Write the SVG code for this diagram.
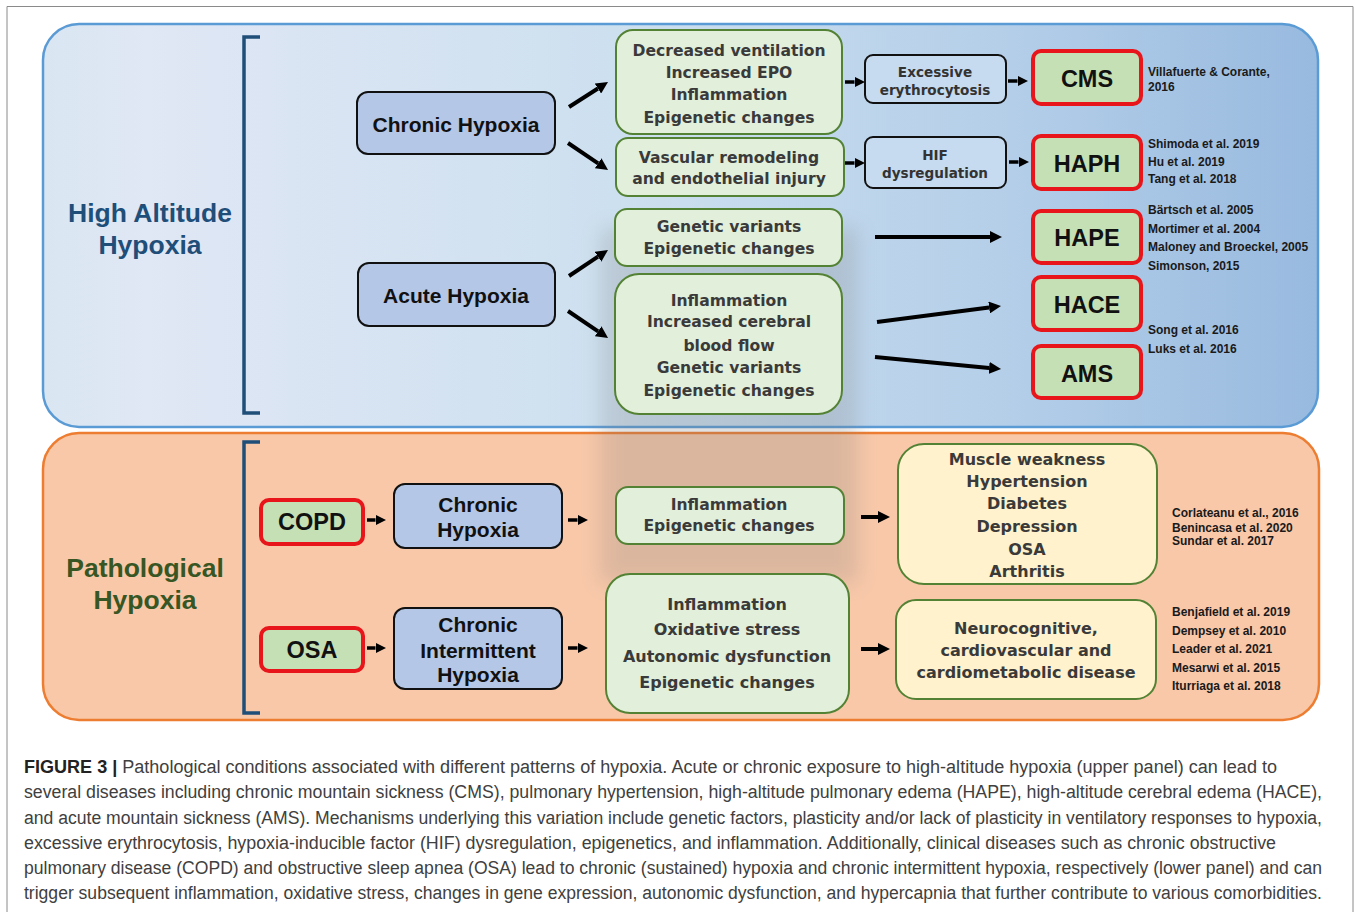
<svg xmlns="http://www.w3.org/2000/svg" width="1356" height="912" viewBox="0 0 1356 912">
<defs>
<linearGradient id="gTop" x1="0" y1="0" x2="1" y2="0">
<stop offset="0" stop-color="#d9e6f2"/>
<stop offset="0.08" stop-color="#e0e7f5"/>
<stop offset="0.45" stop-color="#cde0ef"/>
<stop offset="0.75" stop-color="#b5cfe9"/>
<stop offset="1" stop-color="#98badf"/>
</linearGradient>
<filter id="blur" x="-20%" y="-20%" width="140%" height="140%"><feGaussianBlur stdDeviation="10"/></filter>
<marker id="ah" viewBox="0 0 10 10" refX="0" refY="5" markerWidth="3" markerHeight="3" orient="auto" markerUnits="strokeWidth"><path d="M0,0L10,5L0,10z" fill="#000"/></marker>
<style>
.panelT{fill:url(#gTop);stroke:#5b9bd5;stroke-width:2.5}
.panelB{fill:#f8c8a9;stroke:#ed7d31;stroke-width:2.5}
.brk{fill:none;stroke:#1f4e79;stroke-width:3.5}
.blue{fill:#b4c7e7;stroke:#111;stroke-width:2}
.lblue{fill:#c6dbef;stroke:#111;stroke-width:2}
.green{fill:#e2efda;stroke:#548235;stroke-width:2}
.yellow{fill:#fff2cc;stroke:#548235;stroke-width:2}
.red{fill:#c5e0b4;stroke:#e8161b;stroke-width:4}
.t{font-family:"DejaVu Sans",Verdana,sans-serif;font-weight:bold;font-size:15.6px;fill:#3a3a3a;text-anchor:middle}
.ty{font-family:"DejaVu Sans",Verdana,sans-serif;font-weight:bold;font-size:16px;fill:#3a3a3a;text-anchor:middle}
.ts{font-family:"DejaVu Sans",Verdana,sans-serif;font-weight:bold;font-size:13.6px;fill:#333;text-anchor:middle}
.tb{font-family:"Liberation Sans",Arial,sans-serif;font-weight:bold;font-size:21px;fill:#111;text-anchor:middle}
.tr{font-family:"Liberation Sans",Arial,sans-serif;font-weight:bold;font-size:23.5px;fill:#111;text-anchor:middle}
.ref{font-family:"Liberation Sans",Arial,sans-serif;font-weight:bold;font-size:12px;fill:#1a1a1a}
.big{font-family:"Liberation Sans",Arial,sans-serif;font-weight:bold;font-size:26.5px;text-anchor:middle}
.cap{font-family:"Liberation Sans Narrow","Liberation Sans",Arial,sans-serif;font-size:18px;fill:#404040}
.a{stroke:#000;fill:none;marker-end:url(#ah)}
.a4{stroke-width:4}
.a3{stroke-width:3.5}
</style>
</defs>
<rect x="0" y="0" width="1356" height="912" fill="#fff"/>
<path d="M7,912V6.5H1353V912" fill="none" stroke="#8a8a8a" stroke-width="1"/>

<g id="panel-high-altitude">
<rect class="panelT" x="43" y="24" width="1275" height="403" rx="36"/>
<path class="brk" d="M260,37H244V413H260"/>
<text class="big" fill="#1f4e79" x="150" y="222">High Altitude</text>
<text class="big" fill="#1f4e79" x="150" y="254">Hypoxia</text>
</g>
<g id="panel-pathological">
<rect class="panelB" x="43" y="433" width="1276" height="287" rx="36"/>
<path class="brk" d="M260,442H244V713H260"/>
<text class="big" fill="#375623" x="145" y="577">Pathological</text>
<text class="big" fill="#375623" x="145" y="609">Hypoxia</text>
</g>
<rect x="600" y="228" width="258" height="355" fill="#7a7a7a" opacity="0.22" filter="url(#blur)"/>

<g id="connectors">
<path class="a a4" d="M569,107L597.9,88.5"/>
<path class="a a4" d="M568,143L598.1,163.3"/>
<path class="a a4" d="M569,276L598,256.7"/>
<path class="a a4" d="M568,311L598.1,331.3"/>
<path class="a a3" d="M845,82H854.5"/>
<path class="a a3" d="M845,163H854.5"/>
<path class="a a3" d="M1008,81H1017.5"/>
<path class="a a3" d="M1009,162H1018.5"/>
<path class="a a4" d="M875,237H990"/>
<path class="a a4" d="M877,322L989.1,307.5"/>
<path class="a a4" d="M875,357L989.1,367.9"/>
<path class="a a3" d="M367,520H375.5"/>
<path class="a a3" d="M367,648H375.5"/>
<path class="a a3" d="M568,520H577.5"/>
<path class="a a3" d="M568,648H577.5"/>
<path class="a a4" d="M861,517H878"/>
<path class="a a4" d="M861,649H878"/>
</g>

<g id="chronic-hypoxia-top"><rect class="blue" x="357" y="92" width="198" height="62" rx="11"/><text class="tb" x="456" y="132">Chronic Hypoxia</text></g>
<g id="acute-hypoxia"><rect class="blue" x="358" y="263" width="197" height="63" rx="11"/><text class="tb" x="456" y="303">Acute Hypoxia</text></g>

<g id="mech-chronic-1"><rect class="green" x="616" y="30" width="226" height="104" rx="17"/>
<text class="t" x="729" y="56">Decreased ventilation</text><text class="t" x="729" y="78">Increased EPO</text><text class="t" x="729" y="100">Inflammation</text><text class="t" x="729" y="123">Epigenetic changes</text></g>
<g id="mech-chronic-2"><rect class="green" x="616" y="138" width="228" height="58" rx="12"/>
<text class="t" x="729" y="163">Vascular remodeling</text><text class="t" x="729" y="184">and endothelial injury</text></g>
<g id="mech-acute-1"><rect class="green" x="615" y="209" width="227" height="57" rx="12"/>
<text class="t" x="729" y="232">Genetic variants</text><text class="t" x="729" y="254">Epigenetic changes</text></g>
<g id="mech-acute-2"><rect class="green" x="615" y="274" width="227" height="140" rx="24"/>
<text class="t" x="729" y="306">Inflammation</text><text class="t" x="729" y="327">Increased cerebral</text><text class="t" x="729" y="351">blood flow</text><text class="t" x="729" y="373">Genetic variants</text><text class="t" x="729" y="396">Epigenetic changes</text></g>

<g id="excessive-erythrocytosis"><rect class="lblue" x="865" y="55" width="141" height="48" rx="8"/>
<text class="ts" x="935" y="77">Excessive</text><text class="ts" x="935" y="95">erythrocytosis</text></g>
<g id="hif-dysregulation"><rect class="lblue" x="865" y="137" width="141" height="51" rx="8"/>
<text class="ts" x="935" y="160">HIF</text><text class="ts" x="935" y="178">dysregulation</text></g>

<g id="cms"><rect class="red" x="1033" y="51" width="108" height="53" rx="8"/><text class="tr" x="1087" y="87">CMS</text></g>
<g id="haph"><rect class="red" x="1033" y="136" width="108" height="53" rx="8"/><text class="tr" x="1087" y="172">HAPH</text></g>
<g id="hape"><rect class="red" x="1033" y="211" width="108" height="52" rx="8"/><text class="tr" x="1087" y="246">HAPE</text></g>
<g id="hace"><rect class="red" x="1033" y="277" width="108" height="53" rx="8"/><text class="tr" x="1087" y="313">HACE</text></g>
<g id="ams"><rect class="red" x="1033" y="346" width="108" height="52" rx="8"/><text class="tr" x="1087" y="382">AMS</text></g>

<g id="refs-top">
<text class="ref" x="1148" y="76">Villafuerte &amp; Corante,</text>
<text class="ref" x="1148" y="91">2016</text>
<text class="ref" x="1148" y="148">Shimoda et al. 2019</text>
<text class="ref" x="1148" y="166">Hu et al. 2019</text>
<text class="ref" x="1148" y="183">Tang et al. 2018</text>
<text class="ref" x="1148" y="214">Bärtsch et al. 2005</text>
<text class="ref" x="1148" y="233">Mortimer et al. 2004</text>
<text class="ref" x="1148" y="251">Maloney and Broeckel, 2005</text>
<text class="ref" x="1148" y="270">Simonson, 2015</text>
<text class="ref" x="1148" y="334">Song et al. 2016</text>
<text class="ref" x="1148" y="353">Luks et al. 2016</text>
</g>

<g id="copd"><rect class="red" x="261" y="500" width="102" height="44" rx="8"/><text class="tr" x="312" y="530">COPD</text></g>
<g id="osa"><rect class="red" x="261" y="628" width="102" height="43" rx="8"/><text class="tr" x="312" y="658">OSA</text></g>
<g id="chronic-hypoxia-bottom"><rect class="blue" x="394" y="484" width="168" height="64" rx="11"/>
<text class="tb" x="478" y="512">Chronic</text><text class="tb" x="478" y="537">Hypoxia</text></g>
<g id="chronic-intermittent-hypoxia"><rect class="blue" x="394" y="608" width="168" height="81" rx="11"/>
<text class="tb" x="478" y="632">Chronic</text><text class="tb" x="478" y="658">Intermittent</text><text class="tb" x="478" y="682">Hypoxia</text></g>

<g id="mech-copd"><rect class="green" x="616" y="487" width="228" height="57" rx="12"/>
<text class="t" x="729" y="510">Inflammation</text><text class="t" x="729" y="531">Epigenetic changes</text></g>
<g id="mech-osa"><rect class="green" x="606" y="574" width="243" height="139" rx="24"/>
<text class="ty" x="727" y="610">Inflammation</text><text class="ty" x="727" y="635">Oxidative stress</text><text class="ty" x="727" y="662">Autonomic dysfunction</text><text class="ty" x="727" y="688">Epigenetic changes</text></g>

<g id="comorb-copd"><rect class="yellow" x="898" y="444" width="259" height="140" rx="26"/>
<text class="ty" x="1027" y="465">Muscle weakness</text><text class="ty" x="1027" y="487">Hypertension</text><text class="ty" x="1027" y="509">Diabetes</text><text class="ty" x="1027" y="532">Depression</text><text class="ty" x="1027" y="555">OSA</text><text class="ty" x="1027" y="577">Arthritis</text></g>
<g id="comorb-osa"><rect class="yellow" x="896" y="600" width="260" height="99" rx="20"/>
<text class="ty" x="1026" y="634">Neurocognitive,</text><text class="ty" x="1026" y="656">cardiovascular and</text><text class="ty" x="1026" y="678">cardiometabolic disease</text></g>

<g id="refs-bottom">
<text class="ref" x="1172" y="517">Corlateanu et al., 2016</text>
<text class="ref" x="1172" y="532">Benincasa et al. 2020</text>
<text class="ref" x="1172" y="545">Sundar et al. 2017</text>
<text class="ref" x="1172" y="616">Benjafield et al. 2019</text>
<text class="ref" x="1172" y="635">Dempsey et al. 2010</text>
<text class="ref" x="1172" y="653">Leader et al. 2021</text>
<text class="ref" x="1172" y="672">Mesarwi et al. 2015</text>
<text class="ref" x="1172" y="690">Iturriaga et al. 2018</text>
</g>

<g id="caption">
<text class="cap" x="24" y="773" textLength="1253" lengthAdjust="spacingAndGlyphs"><tspan font-weight="bold" fill="#222">FIGURE 3 |</tspan> Pathological conditions associated with different patterns of hypoxia. Acute or chronic exposure to high-altitude hypoxia (upper panel) can lead to</text>
<text class="cap" x="24" y="798" textLength="1298" lengthAdjust="spacingAndGlyphs">several diseases including chronic mountain sickness (CMS), pulmonary hypertension, high-altitude pulmonary edema (HAPE), high-altitude cerebral edema (HACE),</text>
<text class="cap" x="24" y="824" textLength="1298" lengthAdjust="spacingAndGlyphs">and acute mountain sickness (AMS). Mechanisms underlying this variation include genetic factors, plasticity and/or lack of plasticity in ventilatory responses to hypoxia,</text>
<text class="cap" x="24" y="849" textLength="1252" lengthAdjust="spacingAndGlyphs">excessive erythrocytosis, hypoxia-inducible factor (HIF) dysregulation, epigenetics, and inflammation. Additionally, clinical diseases such as chronic obstructive</text>
<text class="cap" x="24" y="874" textLength="1298" lengthAdjust="spacingAndGlyphs">pulmonary disease (COPD) and obstructive sleep apnea (OSA) lead to chronic (sustained) hypoxia and chronic intermittent hypoxia, respectively (lower panel) and can</text>
<text class="cap" x="24" y="899" textLength="1298" lengthAdjust="spacingAndGlyphs">trigger subsequent inflammation, oxidative stress, changes in gene expression, autonomic dysfunction, and hypercapnia that further contribute to various comorbidities.</text>
</g>
</svg>
